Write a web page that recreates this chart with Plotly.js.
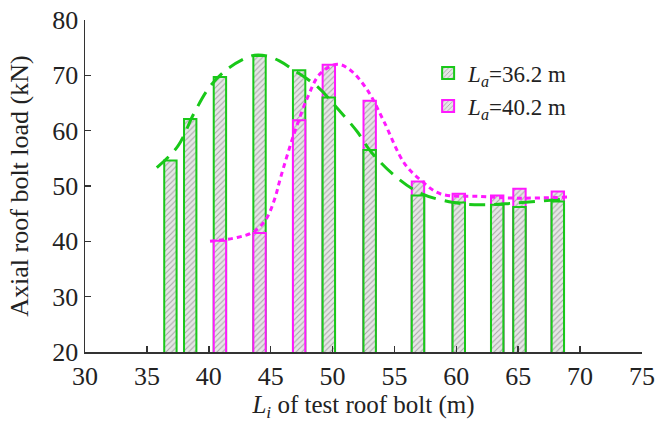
<!DOCTYPE html>
<html>
<head>
<meta charset="utf-8">
<script src="https://cdn.plot.ly/plotly-3.0.1.min.js"></script>
<style>
  html, body { margin: 0; padding: 0; background: #fff; }
  #chart { width: 655px; height: 422px; }
</style>
</head>
<body>
<div id="chart"></div>
<script>
// Test bolt positions L_i (m) and measured axial loads (kN)
const boltPosA = [36.9, 38.5, 40.9, 44.1, 47.3, 49.7, 53.0, 56.9, 60.2, 63.3, 65.1, 68.2];
const loadA    = [54.6, 62.1, 69.7, 73.5, 70.9, 66.0, 56.5, 48.3, 47.0, 46.6, 46.2, 47.2];

const boltPosB = [40.9, 44.1, 47.3, 49.7, 53.0, 56.9, 60.2, 63.3, 65.1, 68.2];
const loadB    = [40.1, 41.5, 61.9, 71.9, 65.4, 50.8, 48.6, 48.3, 49.5, 49.0];

// Fitted trend lines
const trendAX = [35.8, 37.5, 38.8, 40.1, 41.6, 43.6, 44.7, 45.7, 46.9, 48.8, 50.4, 52.0, 53.1, 55.1, 57.1, 59.8, 62.0, 64.6, 68.5];
const trendAY = [53.3, 57.2, 63.1, 68.0, 71.3, 73.6, 73.5, 72.6, 70.9, 67.9, 64.0, 59.8, 56.2, 51.7, 48.7, 47.0, 46.6, 46.9, 47.6];

const trendBX = [40.1, 42.3, 43.6, 44.6, 45.3, 45.8, 46.9, 48.0, 49.0, 50.4, 51.4, 52.8, 54.1, 55.8, 57.1, 58.7, 62.0, 65.0, 69.0];
const trendBY = [40.0, 40.7, 41.7, 43.9, 47.5, 51.5, 59.5, 66.1, 70.3, 72.0, 71.0, 67.4, 61.9, 54.1, 51.1, 48.6, 48.1, 47.8, 48.0];

const seriesNames = ['<i>L</i><sub><i>a</i></sub>=36.2 m', '<i>L</i><sub><i>a</i></sub>=40.2 m'];

const GREEN = '#19c819';
const MAGENTA = '#ff19ff';
const hatch = { shape: '/', fgcolor: '#a8a8a8', bgcolor: '#e6e6e6', size: 4, solidity: 0.28 };
const barWidth = 1.0;

function barTrace(x, y, color, name, showlegend) {
  return {
    type: 'bar', x: x, y: y, name: name, showlegend: showlegend,
    width: x.map(() => barWidth),
    marker: { color: '#e6e6e6', pattern: hatch, line: { color: color, width: 2 } },
    hoverinfo: 'x+y'
  };
}

// Where the La=36.2 m bar is the shorter of a pair, draw it again on top
const lookupB = {};
boltPosB.forEach((x, i) => { lookupB[x] = loadB[i]; });
const frontA = loadA.map((v, i) => {
  const other = lookupB[boltPosA[i]];
  return (other !== undefined && v < other) ? v : null;
});

const data = [
  barTrace(boltPosA, loadA, GREEN, seriesNames[0], true),
  barTrace(boltPosB, loadB, MAGENTA, seriesNames[1], true),
  barTrace(boltPosA, frontA, GREEN, seriesNames[0], false),
  {
    type: 'scatter', mode: 'lines', x: trendAX, y: trendAY, showlegend: false,
    line: { color: GREEN, width: 3, dash: '16px,9px', shape: 'spline', smoothing: 1 },
    hoverinfo: 'skip'
  },
  {
    type: 'scatter', mode: 'lines', x: trendBX, y: trendBY, showlegend: false,
    line: { color: MAGENTA, width: 3, dash: '5px,4px', shape: 'spline', smoothing: 1 },
    hoverinfo: 'skip'
  }
];

const FONT = 'Liberation Serif, Times New Roman, serif';

const layout = {
  width: 655, height: 422,
  margin: { l: 85, r: 13, t: 20, b: 70 },
  paper_bgcolor: '#fff', plot_bgcolor: '#fff',
  barmode: 'overlay',
  font: { family: FONT, size: 25, color: '#222' },
  xaxis: {
    range: [30, 75], dtick: 5, tick0: 30,
    showline: true, linecolor: '#333', linewidth: 1.5,
    ticks: 'inside', ticklen: 6, tickwidth: 1.5, tickcolor: '#333',
    showgrid: false, zeroline: false, automargin: false,
    ticklabeloverflow: 'allow',
    tickfont: { family: FONT, size: 26, color: '#222' },
    title: { text: '<i>L</i><sub><i>i</i></sub> of test roof bolt (m)', font: { family: FONT, size: 25, color: '#222' }, standoff: 10 }
  },
  yaxis: {
    range: [20, 80], dtick: 10, tick0: 20,
    showline: true, linecolor: '#333', linewidth: 1.5,
    ticks: 'inside', ticklen: 6, tickwidth: 1.5, tickcolor: '#333',
    showgrid: false, zeroline: false, automargin: false,
    ticklabeloverflow: 'allow',
    tickfont: { family: FONT, size: 26, color: '#222' },
    title: { text: 'Axial roof bolt load (kN)', font: { family: FONT, size: 26, color: '#222' }, standoff: 16 }
  },
  legend: {
    x: 0.616, y: 0.905, xanchor: 'left', yanchor: 'top',
    bgcolor: 'rgba(0,0,0,0)', borderwidth: 0,
    font: { family: FONT, size: 23, color: '#222' },
    tracegroupgap: 0
  },
  showlegend: true
};

Plotly.newPlot('chart', data, layout, { staticPlot: true, displayModeBar: false });
</script>
</body>
</html>
